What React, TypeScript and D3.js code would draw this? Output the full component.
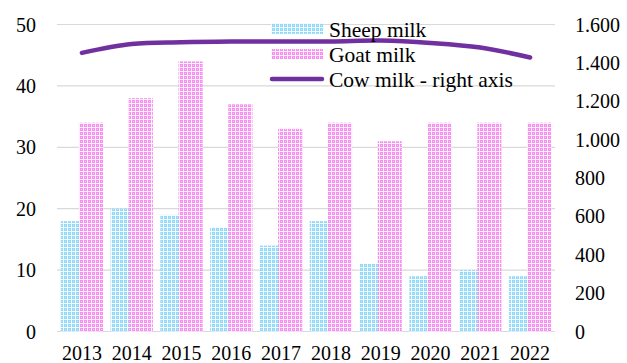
import React from "react";
import * as d3 from "d3";

const years = ["2013", "2014", "2015", "2016", "2017", "2018", "2019", "2020", "2021", "2022"];
const sheepMilk = [18, 20, 19, 17, 14, 18, 11, 9, 10, 9];
const goatMilk = [34, 38, 44, 37, 33, 34, 31, 34, 34, 34];
const cowMilk = [1452, 1498, 1507, 1511, 1512, 1511, 1516, 1504, 1480, 1428];
const leftTicks = [0, 10, 20, 30, 40, 50];
const rightTicks = [0, 200, 400, 600, 800, 1000, 1200, 1400, 1600];

const W = 627;
const H = 363;
const M = { left: 57, right: 555, top: 24.5, bottom: 331.5 };
const FONT = "'Liberation Serif', serif";

const formatRight = (v: number) => {
  if (v < 1000) return String(v);
  const s = String(v);
  return s.slice(0, s.length - 3) + "." + s.slice(s.length - 3);
};

export default function App() {
  const x = d3.scaleBand<string>().domain(years).range([M.left, M.right]).paddingInner(0).paddingOuter(0);
  const yL = d3.scaleLinear().domain([0, 50]).range([M.bottom, M.top]);
  const yR = d3.scaleLinear().domain([0, 1600]).range([M.bottom, M.top]);

  const bw = x.bandwidth();
  const barW = bw * 0.485;
  const overlap = bw * 0.12;
  const groupW = barW * 2 - overlap;

  const line = d3
    .line<number>()
    .x((_, i) => (x(years[i]) as number) + bw / 2)
    .y((d) => yR(d))
    .curve(d3.curveCatmullRom.alpha(0.5));

  return (
    <svg width={W} height={H} style={{ position: "absolute", left: 0, top: 0, background: "#fff" }}>
      <defs>
        <pattern id="sheepPat" width="4" height="4" patternUnits="userSpaceOnUse">
          <rect width="4" height="4" fill="#f2fbff" />
          <rect x="0" y="0" width="3" height="3" fill="#92d8f8" />
          <rect x="1" y="1" width="1" height="1" fill="#c4ebfc" />
        </pattern>
        <pattern id="goatPat" width="4" height="4" patternUnits="userSpaceOnUse">
          <rect width="4" height="4" fill="#fff0fe" />
          <rect x="0" y="0" width="3" height="3" fill="#f78ef1" />
          <rect x="1" y="1" width="1" height="1" fill="#fbc6f7" />
        </pattern>
      </defs>

      {/* horizontal gridlines on left-axis ticks */}
      {leftTicks.map((t) => (
        <line key={"g" + t} x1={M.left} x2={M.right} y1={yL(t)} y2={yL(t)} stroke="#d9d9d9" strokeWidth={1.2} />
      ))}

      {/* sheep bars, then goat bars overlapping */}
      {years.map((yr, i) => {
        const x0 = (x(yr) as number) + (bw - groupW) / 2;
        return (
          <rect key={"s" + yr} x={x0} y={yL(sheepMilk[i])} width={barW} height={yL(0) - yL(sheepMilk[i])} fill="url(#sheepPat)" />
        );
      })}
      {years.map((yr, i) => {
        const x0 = (x(yr) as number) + (bw - groupW) / 2 + barW - overlap;
        return (
          <rect key={"gt" + yr} x={x0} y={yL(goatMilk[i])} width={barW} height={yL(0) - yL(goatMilk[i])} fill="url(#goatPat)" />
        );
      })}

      {/* cow milk, right axis */}
      <path d={line(cowMilk) || ""} fill="none" stroke="#7030a0" strokeWidth={4.5} strokeLinecap="round" />

      {/* left axis labels */}
      {leftTicks.map((t) => (
        <text key={"l" + t} x={36} y={yL(t)} dy="0.35em" textAnchor="end" fontFamily={FONT} fontSize={20} fill="#000">
          {t}
        </text>
      ))}

      {/* right axis labels */}
      {rightTicks.map((t) => (
        <text key={"r" + t} x={575} y={yR(t)} dy="0.35em" textAnchor="start" fontFamily={FONT} fontSize={20} fill="#000">
          {formatRight(t)}
        </text>
      ))}

      {/* category labels */}
      {years.map((yr) => (
        <text key={"x" + yr} x={(x(yr) as number) + bw / 2} y={360} textAnchor="middle" fontFamily={FONT} fontSize={20} fill="#000">
          {yr}
        </text>
      ))}

      {/* legend */}
      <g fontFamily={FONT} fontSize={21.5} fill="#000">
        <rect x={271} y={23} width={52} height={11} fill="url(#sheepPat)" />
        <text x={329} y={29} dy="0.35em">Sheep milk</text>
        <rect x={271} y={49} width={52} height={10} fill="url(#goatPat)" />
        <text x={329} y={54} dy="0.35em">Goat milk</text>
        <line x1={272} x2={322} y1={79} y2={79} stroke="#7030a0" strokeWidth={4.5} strokeLinecap="round" />
        <text x={329} y={79} dy="0.35em">Cow milk - right axis</text>
      </g>
    </svg>
  );
}
